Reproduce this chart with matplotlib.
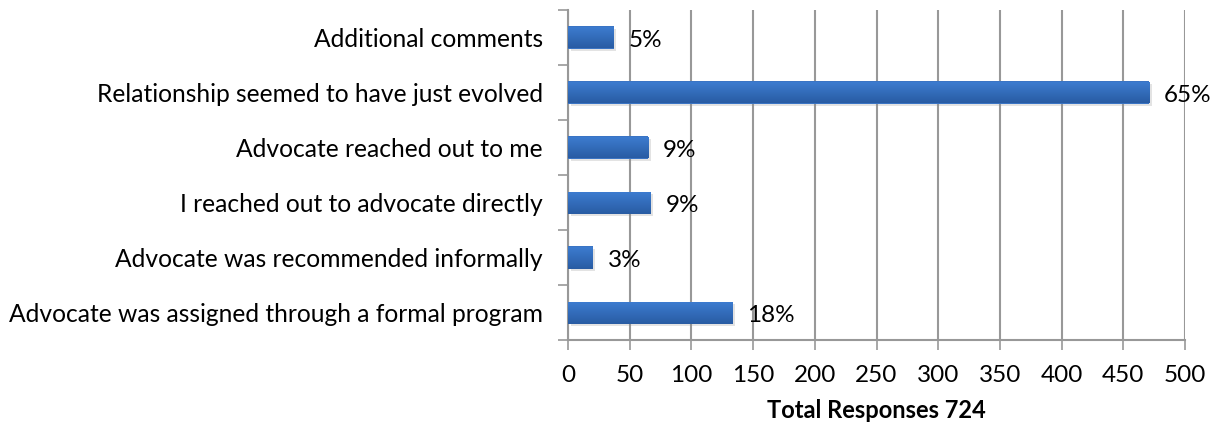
import numpy as np
import matplotlib
matplotlib.use("Agg")
import matplotlib.pyplot as plt
import matplotlib.patheffects as pe

categories = [
    "Additional comments",
    "Relationship seemed to have just evolved",
    "Advocate reached out to me",
    "I reached out to advocate directly",
    "Advocate was recommended informally",
    "Advocate was assigned through a formal program",
]
responses = [37, 471, 65, 67, 20, 133]
total_responses = 724
x_ticks = [0, 50, 100, 150, 200, 250, 300, 350, 400, 450, 500]

plt.rcParams["font.family"] = ["Lato", "DejaVu Sans"]

fig = plt.figure(figsize=(12.25, 4.29), dpi=100)
ax = fig.add_axes([568 / 1225, 1 - 340 / 429, (1185 - 568) / 1225, 330 / 429])

grid_col = "#989898"
n = len(categories)
ypos = np.arange(n)[::-1]

bars = ax.barh(ypos, responses, height=0.4, color="#3a74c4", zorder=3)
for b in bars:
    b.set_path_effects([pe.SimplePatchShadow(offset=(2, -2), shadow_rgbFace="#909090", alpha=0.25), pe.Normal()])
    # vertical gradient fill, lighter on top
    x0, y0 = b.get_x(), b.get_y()
    w, h = b.get_width(), b.get_height()
    grad = np.linspace(0, 1, 64).reshape(-1, 1)
    top = np.array([0.24, 0.49, 0.82])
    bot = np.array([0.16, 0.36, 0.64])
    img = (top * (1 - grad) + bot * grad)[:, None, :].repeat(2, axis=1)
    im = ax.imshow(img, extent=(x0, x0 + w, y0, y0 + h), origin="upper",
                   aspect="auto", zorder=4, interpolation="bilinear")
    im.set_clip_path(b)

for y, v in zip(ypos, responses):
    pct = round(v / total_responses * 100)
    ax.text(v + 12, y - 0.05, f"{pct}%", va="center", ha="left", fontsize=17.5, zorder=5)

ax.set_xlim(0, 500)
ax.set_ylim(-0.5, n - 0.5)
ax.set_xticks(x_ticks)
ax.set_xticklabels([str(t) for t in x_ticks], fontsize=17.5)
ax.xaxis.grid(True, color=grid_col, linewidth=1.5, zorder=0)
ax.set_axisbelow(True)

ax.set_yticks(ypos)
ax.set_yticklabels(categories, fontsize=17.7)
ax.tick_params(axis="y", length=0, pad=18)
ax.set_yticks(np.arange(-0.5, n, 1.0), minor=True)
ax.tick_params(axis="y", which="minor", length=7, color=grid_col, width=1.2)
ax.tick_params(axis="x", length=7, color=grid_col, width=1.2, pad=11)

for s in ["top", "right"]:
    ax.spines[s].set_visible(False)
for s in ["left", "bottom"]:
    ax.spines[s].set_color(grid_col)
    ax.spines[s].set_linewidth(1.5)

ax.set_xlabel(f"Total Responses {total_responses}", fontsize=17, fontweight="bold", labelpad=9)

fig.savefig("out.png", dpi=100)
